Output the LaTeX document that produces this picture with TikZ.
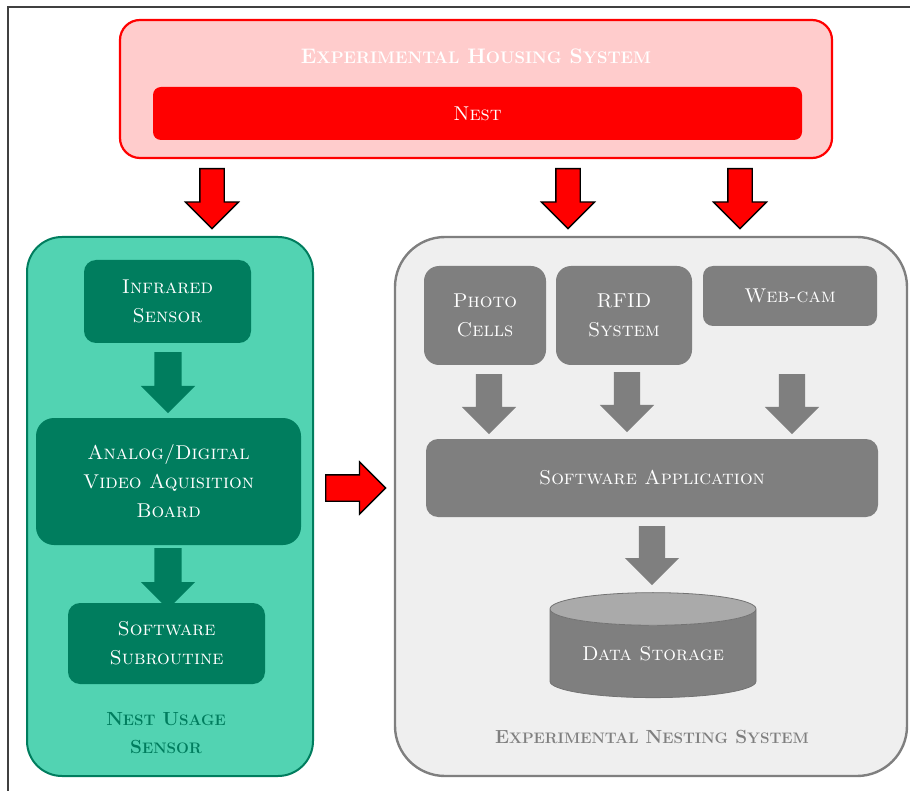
\documentclass[tikz,border=0pt]{standalone}
\usepackage{graphicx}
\usetikzlibrary{shapes.geometric,shapes.arrows}

\definecolor{housefill}{RGB}{255,204,204}
\definecolor{usagefill}{RGB}{82,211,178}
\definecolor{usagedark}{RGB}{0,125,94}
\definecolor{nestgray}{RGB}{127,127,127}
\definecolor{nestbg}{RGB}{239,239,239}
\definecolor{disktop}{RGB}{170,170,170}

% bold caps with smaller caps, for the titles
\newcommand{\tsc}[2]{#1\scalebox{0.8}{#2}}

\tikzset{
  every node/.style={inner sep=0pt},
  boxtext/.style={font=\fontsize{20}{29}\selectfont\scshape, text=white, align=center},
  titletext/.style={font=\fontsize{19}{28}\selectfont\bfseries, align=center},
  greenbox/.style={boxtext, fill=usagedark, rounded corners=12pt},
  graybox/.style={boxtext, fill=nestgray, rounded corners=12pt},
  bigarrow/.style={single arrow, rotate=-90, anchor=tail, inner xsep=0pt, minimum height=60pt},
  redarrow/.style={bigarrow, fill=red, draw=black, line width=1.3pt,
    inner ysep=11.5pt, single arrow head extend=14.5pt},
  greenarrow/.style={bigarrow, fill=usagedark, inner ysep=13.5pt, single arrow head extend=13.5pt},
  grayarrow/.style={bigarrow, fill=nestgray, inner ysep=13pt, single arrow head extend=14pt}
}

\begin{document}
\begin{tikzpicture}[x=1pt,y=-1pt]
  \useasboundingbox (0,0) rectangle (910,791);
  \draw[line width=1.2pt, black!75] (8,791) -- (8,7) -- (910,7);

  % housing
  \node[draw=red, line width=2.2pt, fill=housefill, rounded corners=20pt,
    minimum width=712pt, minimum height=138pt] (house) at (476,89) {};
  \node[titletext, text=white, font=\fontsize{21}{26}\selectfont\bfseries] (housetitle) at (476,56)
    {\tsc{E}{XPERIMENTAL} \tsc{H}{OUSING} \tsc{S}{YSTEM}};
  \node[boxtext, fill=red, rounded corners=8pt,
    minimum width=649pt, minimum height=53pt] (nest) at (477.5,113.5) {Nest};

  % nest usage sensor
  \node[draw=usagedark, line width=2pt, fill=usagefill, rounded corners=35pt,
    minimum width=286pt, minimum height=539pt] (usage) at (170,506.5) {};
  \node[greenbox, minimum width=167pt, minimum height=83pt] (infra) at (167.5,301.5) {Infrared\\Sensor};
  \node[greenbox, rounded corners=18pt, minimum width=265pt, minimum height=127pt] (board) at (168.5,481.5)
    {Analog/Digital\\Video Aquisition\\Board};
  \node[greenbox, minimum width=197pt, minimum height=81pt] (subr) at (166.5,643.5) {Software\\Subroutine};
  \node[titletext, text=usagedark] (usagetitle) at (166,733) {\tsc{N}{EST} \tsc{U}{SAGE}\\\tsc{S}{ENSOR}};
  \node[greenarrow, minimum height=61pt] (ga1) at (168,352) {};
  \node[greenarrow, minimum height=61pt] (ga2) at (168,548) {};

  % nesting system
  \node[draw=nestgray, line width=2.4pt, fill=nestbg, rounded corners=50pt,
    minimum width=512pt, minimum height=539pt] (nesting) at (651,506.5) {};
  \node[graybox, rounded corners=15pt, minimum width=122pt, minimum height=99pt] (photo) at (485,315.5) {Photo\\Cells};
  \node[graybox, rounded corners=15pt, minimum width=136pt, minimum height=99pt] (rfid) at (624,315.5) {RFID\\System};
  \node[graybox, rounded corners=10pt, minimum width=174pt, minimum height=60pt] (webcam) at (790,296) {Web-cam};
  \node[graybox, minimum width=452pt, minimum height=78pt] (app) at (652,478) {Software Application};
  \node[boxtext, cylinder, shape border rotate=90, aspect=0.23, draw=black!55, line width=0.8pt,
    cylinder uses custom fill, cylinder body fill=nestgray, cylinder end fill=disktop,
    minimum width=206pt, minimum height=105pt] (storage) at (653,653.5) {Data Storage};
  \node[titletext, text=nestgray] (nestingtitle) at (652,737)
    {\tsc{E}{XPERIMENTAL} \tsc{N}{ESTING} \tsc{S}{YSTEM}};
  \node[grayarrow] (pa) at (489,374) {};
  \node[grayarrow] (ra) at (627,372) {};
  \node[grayarrow] (wa) at (792,374) {};
  \node[grayarrow, minimum height=59pt] (sa) at (652,526) {};

  % red arrows
  \node[redarrow] (ra1) at (212,168) {};
  \node[redarrow] (ra2) at (568,168) {};
  \node[redarrow] (ra3) at (740,168) {};
  \node[redarrow, rotate=90, inner ysep=12.5pt, single arrow head extend=13pt] (ra4) at (325,488) {};
\end{tikzpicture}
\end{document}
